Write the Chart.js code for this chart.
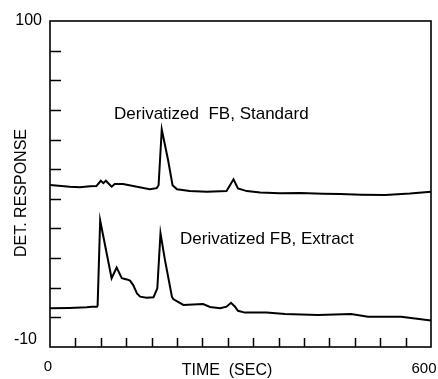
<!DOCTYPE html>
<html>
<head>
<meta charset="utf-8">
<script src="https://cdn.jsdelivr.net/npm/chart.js@4.4.1/dist/chart.umd.min.js"></script>
<style>
  html, body { margin: 0; padding: 0; background: #fff; }
  #wrap { width: 438px; height: 379px; }
</style>
</head>
<body>
<div id="wrap"><canvas id="c" width="438" height="379"></canvas></div>
<script>
// Detector trace of the derivatized FB standard (time in s, response)
const stdTime = [0, 31, 47, 63, 73, 80, 84, 88, 97, 102, 115, 131, 157, 168, 171, 176, 186, 193, 200, 220, 247, 278, 289, 296, 310, 331, 362, 394, 430, 457, 490, 528, 567, 600];
const stdResponse = [44.7, 44.1, 43.9, 44.2, 44.3, 46.1, 45.3, 46.1, 44.1, 45.0, 45.0, 44.3, 43.2, 43.6, 44.6, 63.4, 53.0, 44.6, 43.2, 42.6, 42.4, 42.6, 46.6, 43.5, 42.6, 42.1, 41.9, 42.0, 41.7, 41.6, 41.4, 41.3, 41.8, 42.4];

// Detector trace of the derivatized FB extract
const extTime = [0, 30, 58, 66, 74, 75, 79, 97, 105, 113, 121, 126, 131, 137, 142, 152, 163, 169, 174, 181, 192, 194, 210, 241, 252, 268, 278, 285, 291, 296, 307, 341, 370, 422, 474, 501, 553, 600];
const extResponse = [3.1, 3.2, 3.4, 3.6, 3.6, 4.0, 32.7, 13.2, 16.8, 13.2, 12.8, 12.4, 10.9, 8.1, 7.0, 6.6, 6.8, 9.8, 28.4, 19.4, 7.0, 6.2, 4.2, 4.5, 3.5, 3.1, 3.6, 4.9, 3.7, 2.2, 1.6, 1.6, 1.1, 0.8, 1.1, 0.2, 0.2, -1.1];

// Axis ranges, tick positions and the labelled ends
const xRange = [0, 600];
const yRange = [-10, 100];
const xTickValues = [40, 80, 120, 160, 200, 240, 280, 320, 360, 400, 440, 480, 520, 560];
const yTickValues = [0, 10, 20, 30, 40, 50, 60, 70, 80, 90];
const xTickLabels = ['0', '600'];
const yTickLabels = ['100', '-10'];
const xTitle = 'TIME  (SEC)';
const yTitle = 'DET. RESPONSE';
const traceLabels = ['Derivatized  FB, Standard', 'Derivatized FB, Extract'];

const toPoints = (xs, ys) => xs.map((x, i) => ({ x, y: ys[i] }));

const FONT = '"Liberation Sans", Arial, Helvetica, sans-serif';

// Frame, inward ticks and all annotation text
const framePlugin = {
  id: 'frame',
  afterDraw(chart) {
    const { ctx, chartArea: a, scales } = chart;
    const xs = scales.x, ys = scales.y;
    ctx.save();
    ctx.strokeStyle = '#000';
    ctx.lineWidth = 1.6;
    ctx.strokeRect(a.left, a.top, a.right - a.left, a.bottom - a.top);

    ctx.beginPath();
    yTickValues.forEach(v => {
      const py = Math.round(ys.getPixelForValue(v)) + 0.5;
      ctx.moveTo(a.left, py);
      ctx.lineTo(a.left + 11, py);
    });
    xTickValues.forEach(v => {
      const px = Math.round(xs.getPixelForValue(v)) + 0.5;
      ctx.moveTo(px, a.bottom);
      ctx.lineTo(px, a.bottom - 9);
    });
    ctx.lineWidth = 1.5;
    ctx.stroke();

    ctx.fillStyle = '#000';
    ctx.textBaseline = 'middle';

    // y end labels
    ctx.font = '16px ' + FONT;
    ctx.textAlign = 'right';
    ctx.fillText(yTickLabels[0], 42, ys.getPixelForValue(yRange[1]));
    ctx.fillText(yTickLabels[1], 37, ys.getPixelForValue(yRange[0]) - 7);

    // x end labels
    ctx.font = '15px ' + FONT;
    ctx.textAlign = 'center';
    ctx.fillText(xTickLabels[0], xs.getPixelForValue(xRange[0]) - 2, 367);
    ctx.fillText(xTickLabels[1], xs.getPixelForValue(xRange[1]) - 7, 369);

    // axis titles
    ctx.font = '16px ' + FONT;
    ctx.fillText(xTitle, 227, 371);
    ctx.save();
    ctx.translate(22, 193);
    ctx.rotate(-Math.PI / 2);
    ctx.fillText(yTitle, 0, 0);
    ctx.restore();

    // trace labels
    ctx.font = '17px ' + FONT;
    ctx.textAlign = 'left';
    ctx.fillText(traceLabels[0], 114, 114);
    ctx.fillText(traceLabels[1], 180, 239);
    ctx.restore();
  }
};

new Chart(document.getElementById('c'), {
  type: 'line',
  data: {
    datasets: [
      {
        label: traceLabels[0],
        data: toPoints(stdTime, stdResponse),
        borderColor: '#000',
        borderWidth: 2,
        pointRadius: 0,
        tension: 0,
        fill: false
      },
      {
        label: traceLabels[1],
        data: toPoints(extTime, extResponse),
        borderColor: '#000',
        borderWidth: 2,
        pointRadius: 0,
        tension: 0,
        fill: false
      }
    ]
  },
  options: {
    responsive: false,
    animation: false,
    layout: { padding: { left: 50, right: 7, top: 21, bottom: 32 } },
    plugins: { legend: { display: false }, tooltip: { enabled: false } },
    scales: {
      x: { type: 'linear', min: xRange[0], max: xRange[1], display: false },
      y: { type: 'linear', min: yRange[0], max: yRange[1], display: false }
    }
  },
  plugins: [framePlugin]
});
</script>
</body>
</html>
